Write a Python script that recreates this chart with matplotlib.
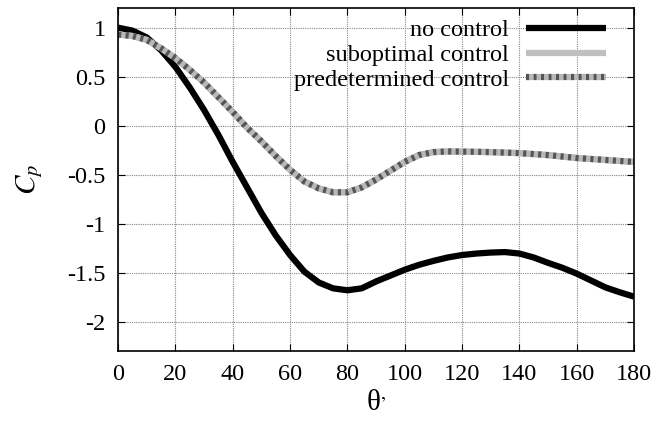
import matplotlib
matplotlib.use('Agg')
import matplotlib.pyplot as plt

plt.rcParams['font.family'] = ['Liberation Serif', 'DejaVu Serif']
plt.rcParams['mathtext.fontset'] = 'stix'

# surface pressure coefficient vs angle
theta = [0, 5, 10, 15, 20, 25, 30, 35, 40, 45, 50, 55, 60, 65, 70, 75, 80, 85, 90,
         95, 100, 105, 110, 115, 120, 125, 130, 135, 140, 145, 150, 155, 160, 165,
         170, 175, 180]
cp_none = [1.0, 0.97, 0.90, 0.77, 0.60, 0.39, 0.16, -0.095, -0.37, -0.63, -0.89,
           -1.12, -1.32, -1.49, -1.60, -1.66, -1.68, -1.66, -1.59, -1.53, -1.47,
           -1.42, -1.38, -1.345, -1.32, -1.305, -1.295, -1.29, -1.305, -1.345, -1.40,
           -1.45, -1.51, -1.58, -1.65, -1.70, -1.745]
cp_subopt = [0.93, 0.915, 0.875, 0.79, 0.69, 0.57, 0.44, 0.29, 0.14, -0.02, -0.16,
             -0.31, -0.45, -0.57, -0.64, -0.68, -0.68, -0.63, -0.55, -0.46, -0.37,
             -0.30, -0.27, -0.263, -0.265, -0.267, -0.27, -0.275, -0.28, -0.29, -0.30,
             -0.315, -0.33, -0.34, -0.35, -0.36, -0.37]
cp_predet = list(cp_subopt)

fig = plt.figure(figsize=(6.56, 4.25), dpi=100)
ax = fig.add_axes([0.18, 0.174, 0.7865, 0.807])

ax.plot(theta, cp_none, color='black', lw=4.5, label='no control',
        solid_capstyle='butt', solid_joinstyle='round')
ax.plot(theta, cp_subopt, color='#c0c0c0', lw=4.5, label='suboptimal control',
        solid_capstyle='butt', solid_joinstyle='round')
ax.plot(theta, cp_predet, color='#555555', lw=4.5, ls=(0, (0.5, 0.7)), gapcolor='#b8b8b8',
        label='predetermined control', dash_capstyle='butt', dash_joinstyle='round')

ax.set_xlim(0, 180)
ax.set_ylim(-2.3, 1.2)
ax.set_xticks(range(0, 181, 20))
ax.set_yticks([1, 0.5, 0, -0.5, -1, -1.5, -2])
ax.set_yticklabels(['1', '0.5', '0', '-0.5', '-1', '-1.5', '-2'])
ax.tick_params(direction='in', top=True, right=True, length=5, labelsize=17.5, pad=9)
ax.grid(True, color='#888888', ls=(0, (1, 1)), lw=0.8)
for s in ax.spines.values():
    s.set_linewidth(1.2)

ax.set_xlabel('θ$^{,}$', fontsize=21, labelpad=4)
ax.set_ylabel('$C_p$', fontsize=21, labelpad=16)

ax.legend(loc='upper right', bbox_to_anchor=(0.955, 0.982), frameon=False,
          fontsize=17.5, markerfirst=False, handlelength=3.3, labelspacing=0.12,
          borderaxespad=0.0, handletextpad=0.7, borderpad=0.2)

fig.savefig('out.png', dpi=100)
